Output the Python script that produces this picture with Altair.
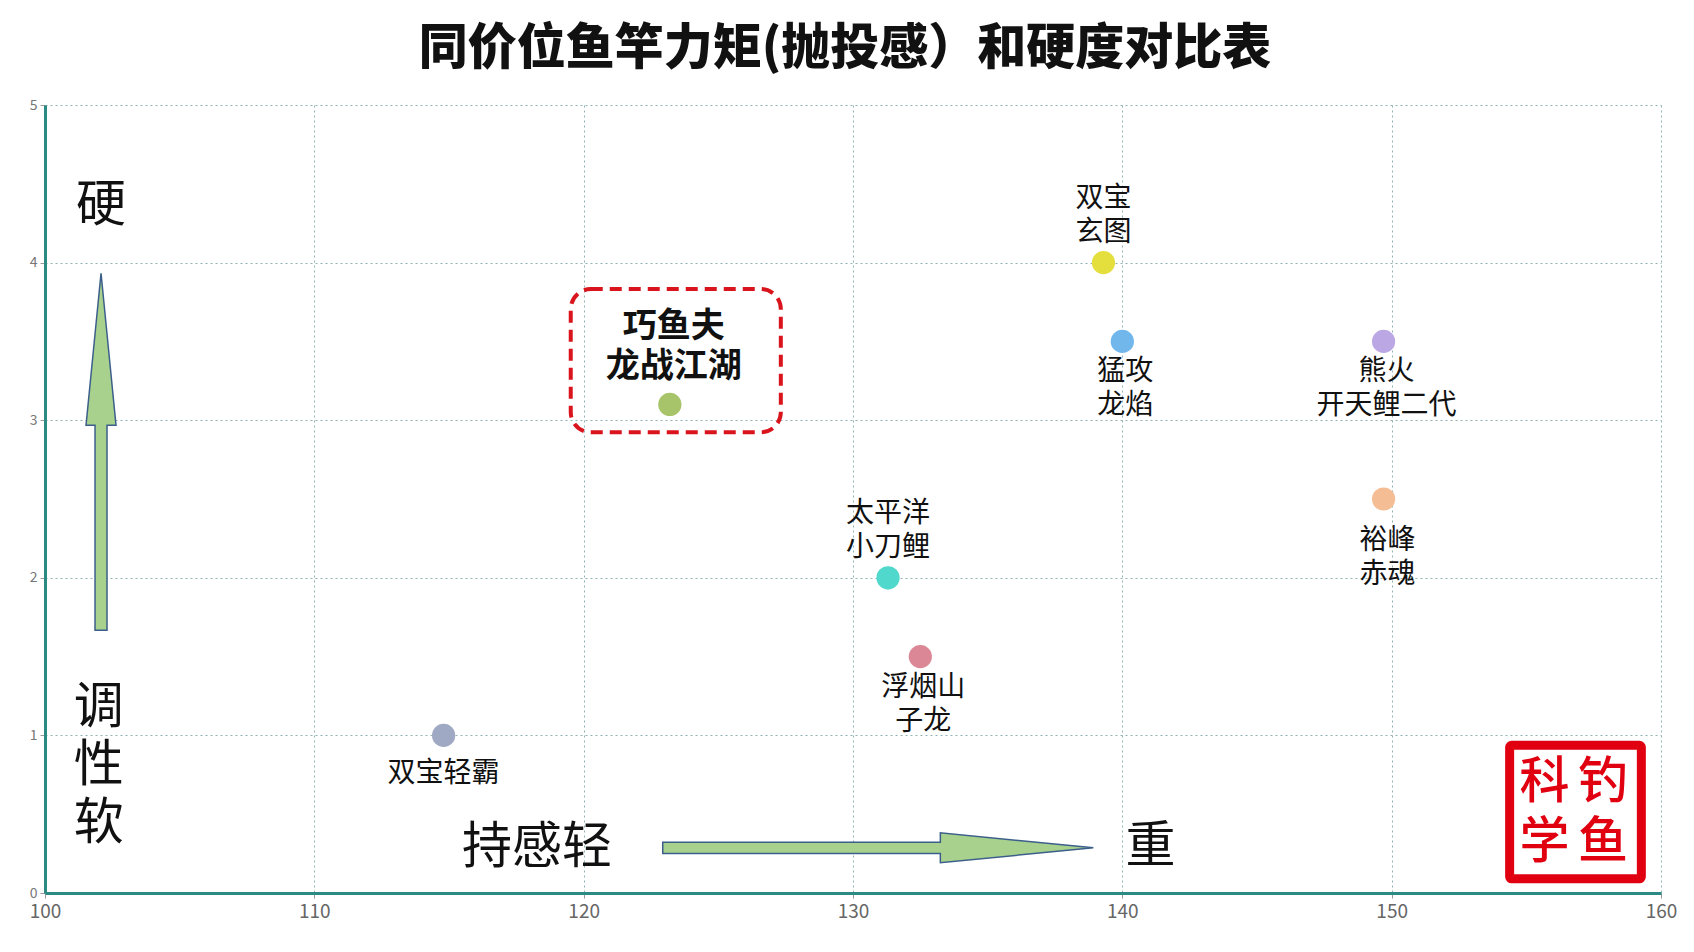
import altair as alt
import pandas as pd

FONT = "Noto Sans CJK SC"

# ---- data ----
names = ["双宝轻霸", "巧鱼夫\n龙战江湖", "太平洋\n小刀鲤", "浮烟山\n子龙",
         "双宝\n玄图", "猛攻\n龙焰", "熊火\n开天鲤二代", "裕峰\n赤魂"]
torque = [114.8, 123.2, 131.3, 132.5, 139.3, 140.0, 149.7, 149.7]
hardness = [1.0, 3.1, 2.0, 1.5, 4.0, 3.5, 3.5, 2.5]
colors = ["#a0a9c4", "#a8c46b", "#4fd8cb", "#dc8796",
          "#e4df3c", "#72b7ec", "#bba7e4", "#f5bd93"]
label_pos = ["below1", "bold", "above", "below", "above", "below", "below", "belowfar"]

x_ticks = [100, 110, 120, 130, 140, 150, 160]
y_ticks = [0, 1, 2, 3, 4, 5]

annot_text = ["硬", "调\n性\n软", "持感轻", "重"]
annot_x = [102.08, 102.0, 118.27, 141.05]
annot_y = [4.36, 1.176, 0.285, 0.29]

up_arrow_x = [102.08]
up_arrow_y = [2.8]
right_arrow_x = [130.93]
right_arrow_y = [0.287]

box_x = [119.52]
box_x2 = [127.32]
box_y = [3.832]
box_y2 = [2.923]

stamp_x = [154.38]
stamp_x2 = [159.27]
stamp_y = [0.09]
stamp_y2 = [0.937]
stamp_chars = ["科", "钓", "学", "鱼"]
stamp_cx = [155.67, 157.85, 155.67, 157.85]
stamp_cy = [0.695, 0.695, 0.32, 0.32]

TITLE = "同价位鱼竿力矩(抛投感）和硬度对比表"

# ---- frames ----
pts = pd.DataFrame({"name": names, "x": torque, "y": hardness, "pos": label_pos})
ann = pd.DataFrame({"t": annot_text, "x": annot_x, "y": annot_y})
up = pd.DataFrame({"x": up_arrow_x, "y": up_arrow_y})
right = pd.DataFrame({"x": right_arrow_x, "y": right_arrow_y})
box = pd.DataFrame({"x": box_x, "x2": box_x2, "y": box_y, "y2": box_y2})
stamp = pd.DataFrame({"x": stamp_x, "x2": stamp_x2, "y": stamp_y, "y2": stamp_y2})
stamp_t = pd.DataFrame({"t": stamp_chars, "x": stamp_cx, "y": stamp_cy})

GRID = "#8fb2b0"
DOMAIN = "#2b8a84"


def X(f="x"):
    return alt.X(f"{f}:Q",
                 scale=alt.Scale(domain=[100, 160], nice=False, zero=False),
                 axis=alt.Axis(values=x_ticks, title=None, labelFontSize=19,
                               labelColor="#666", labelFont=FONT, labelFlush=False,
                               domainColor=DOMAIN, domainWidth=3,
                               tickColor="#999", tickSize=5, labelPadding=4,
                               gridColor=GRID, gridDash=[2, 3], gridWidth=1))


def Y(f="y"):
    return alt.Y(f"{f}:Q",
                 scale=alt.Scale(domain=[0, 5], nice=False, zero=False),
                 axis=alt.Axis(values=y_ticks, title=None, labelFontSize=14,
                               labelColor="#777", labelFont=FONT, labelFlush=False,
                               domainColor=DOMAIN, domainWidth=3,
                               tickColor="#999", tickSize=5, labelPadding=3,
                               gridColor=GRID, gridDash=[2, 3], gridWidth=1))


points = alt.Chart(pts).mark_circle(size=540, opacity=1).encode(
    x=X(), y=Y(),
    color=alt.Color("name:N", scale=alt.Scale(domain=names, range=colors), legend=None),
)


def labels(pos, dy, dx=0, size=28, weight="normal", lh=34):
    return alt.Chart(pts).transform_filter(alt.datum.pos == pos).mark_text(
        font=FONT, fontSize=size, fontWeight=weight, color="#111",
        lineBreak="\n", lineHeight=lh,
        baseline="middle", align="center", dy=dy, dx=dx,
    ).encode(x=X(), y=Y(), text="name:N")


lab_layers = [
    labels("above", -64),
    labels("below", 31, 3),
    labels("belowfar", 42, 4),
    labels("below1", 39),
    labels("bold", -77, 4, size=34, weight="bold", lh=40),
]

annots = alt.Chart(ann).mark_text(
    font=FONT, fontSize=50, color="#111", lineBreak="\n", lineHeight=58,
    baseline="middle", align="center",
).encode(x=X(), y=Y(), text="t:N")

ARROW_FILL = "#a9d18e"
ARROW_STROKE = "#3b5f8a"
up_path = ("M -0.0336 1 L -0.0336 -0.1485 L -0.084 -0.1485 L 0 -1 "
           "L 0.084 -0.1485 L 0.0336 -0.1485 L 0.0336 1 Z")
right_path = ("M -1 -0.0262 L 0.2893 -0.0262 L 0.2893 -0.0697 L 1 0 "
              "L 0.2893 0.0697 L 0.2893 0.0262 L -1 0.0262 Z")

up_arrow = alt.Chart(up).mark_point(
    shape=up_path, filled=True, fill=ARROW_FILL, stroke=ARROW_STROKE,
    strokeWidth=1.5, opacity=1, strokeOpacity=1, fillOpacity=1,
).encode(x=X(), y=Y(), size=alt.value(127449))

right_arrow = alt.Chart(right).mark_point(
    shape=right_path, filled=True, fill=ARROW_FILL, stroke=ARROW_STROKE,
    strokeWidth=1.5, opacity=1, strokeOpacity=1, fillOpacity=1,
).encode(x=X(), y=Y(), size=alt.value(185416))

hbox = alt.Chart(box).mark_rect(
    fill=None, fillOpacity=0, stroke="#d9141c", strokeWidth=4,
    strokeDash=[12, 7], cornerRadius=20,
).encode(x=X(), x2="x2:Q", y=Y(), y2="y2:Q")

stamp_rect = alt.Chart(stamp).mark_rect(
    fill="white", stroke="#e00010", strokeWidth=9, cornerRadius=2,
).encode(x=X(), x2="x2:Q", y=Y(), y2="y2:Q")

stamp_text = alt.Chart(stamp_t).mark_text(
    font=FONT, fontSize=50, fontWeight=500, color="#e00010",
    baseline="middle", align="center",
).encode(x=X(), y=Y(), text="t:N")

chart = alt.layer(
    hbox, up_arrow, right_arrow, points, *lab_layers, annots, stamp_rect, stamp_text
).properties(
    width=1616, height=788,
    padding={"left": 37, "top": 97, "right": 25, "bottom": 40},
    autosize=alt.AutoSizeParams(type="none"),
    title=alt.Title(TITLE, fontSize=49, font=FONT, fontWeight=900, color="#111",
                    anchor="middle", offset=24, dx=-8),
).configure_view(strokeWidth=0)

chart.save("out.html", embed_options={"renderer": "svg", "actions": False})
